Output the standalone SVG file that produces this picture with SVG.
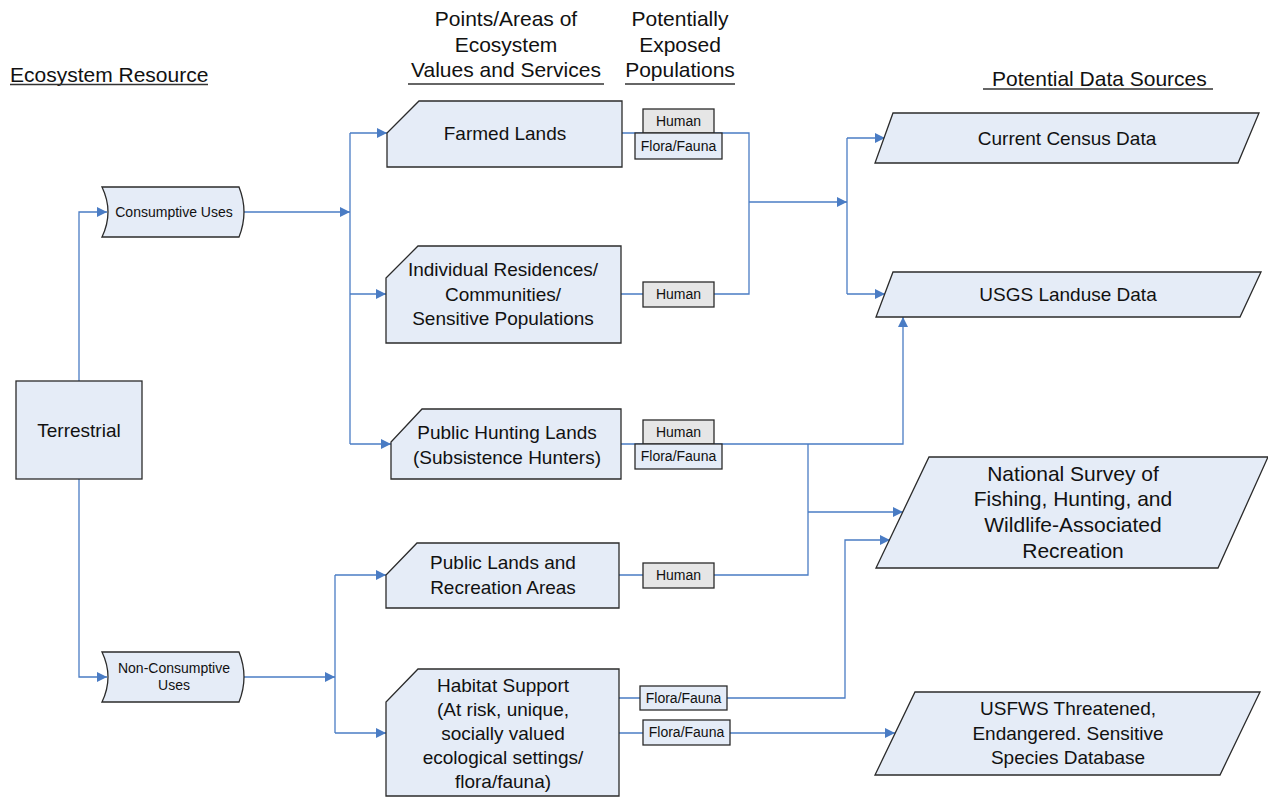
<svg xmlns="http://www.w3.org/2000/svg" width="1268" height="797" viewBox="0 0 1268 797">
<defs>
<marker id="arr" markerUnits="userSpaceOnUse" markerWidth="10" markerHeight="10" viewBox="0 0 10 10" refX="10" refY="5" orient="auto">
<path d="M0,0 L10,5 L0,10 Z" fill="#4a7cc4"/>
</marker>
<style>
.c{fill:none;stroke:#4a7cc4;stroke-width:1.3}
.a{marker-end:url(#arr)}
.n{fill:#e5ecf7;stroke:#2b2b2b;stroke-width:1.3}
.h{fill:#e6e6e6;stroke:#2b2b2b;stroke-width:1.3}
.f{fill:#e5ecf7;stroke:#2b2b2b;stroke-width:1.3}
text{font-family:"Liberation Sans",Arial,sans-serif;fill:#111}
.t19{font-size:19px;text-anchor:middle}
.t21{font-size:21px}
.t21m{font-size:21px;text-anchor:middle}
.t14{font-size:14px;text-anchor:middle}
.t13{font-size:14px;text-anchor:middle}
.u{stroke:#333;stroke-width:1.3}
</style>
</defs>
<rect width="1268" height="797" fill="#fff"/>

<g id="headers">
<text class="t21" x="10" y="82">Ecosystem Resource</text>
<line class="u" x1="10" y1="84.5" x2="208" y2="84.5"/>
<text class="t21m" x="506" y="26">Points/Areas of</text>
<text class="t21m" x="506" y="52">Ecosystem</text>
<text class="t21m" x="506" y="77">Values and Services</text>
<line class="u" x1="408" y1="84" x2="604" y2="84"/>
<text class="t21m" x="680" y="26">Potentially</text>
<text class="t21m" x="680" y="52">Exposed</text>
<text class="t21m" x="680" y="77">Populations</text>
<line class="u" x1="625" y1="84" x2="735" y2="84"/>
<text class="t21" x="992" y="86">Potential Data Sources</text>
<line class="u" x1="983" y1="89" x2="1213" y2="89"/>
</g>

<g id="connectors">
<path class="c a" d="M79,381 V212 H107"/>
<path class="c a" d="M79,479 V677 H107"/>
<path class="c a" d="M244,212 H350"/>
<path class="c" d="M350,133 V444"/>
<path class="c a" d="M350,133 H387"/>
<path class="c a" d="M350,294 H386"/>
<path class="c a" d="M350,444 H391"/>
<path class="c a" d="M244,677 H335"/>
<path class="c" d="M335,575 V733"/>
<path class="c a" d="M335,575 H386"/>
<path class="c a" d="M335,733 H386"/>
<path class="c" d="M622,133 H749 V294 H621"/>
<path class="c a" d="M749,202 H847"/>
<path class="c" d="M847,138 V294"/>
<path class="c a" d="M847,138 H885"/>
<path class="c a" d="M847,294 H885"/>
<path class="c a" d="M621,444 H903 V317"/>
<path class="c" d="M808,444 V575 H619"/>
<path class="c a" d="M808,512 H903"/>
<path class="c a" d="M619,698 H845 V540 H890"/>
<path class="c a" d="M619,733 H895"/>
</g>

<g id="terrestrial">
<rect class="n" x="16" y="381" width="126" height="98"/>
<text class="t19" x="79" y="437">Terrestrial</text>
</g>
<g id="consumptive">
<path class="n" d="M102,187 L239,187 Q249,212 239,237 L102,237 Q114,212 102,187 Z"/>
<text class="t14" x="174" y="217">Consumptive Uses</text>
</g>
<g id="nonconsumptive">
<path class="n" d="M102,652 L239,652 Q249,677 239,702 L102,702 Q114,677 102,652 Z"/>
<text class="t14" x="174" y="673">Non-Consumptive</text>
<text class="t14" x="174" y="690">Uses</text>
</g>

<g id="farmed">
<path class="n" d="M419,101 H622 V167 H387 V133 Z"/>
<text class="t19" x="505" y="140">Farmed Lands</text>
</g>
<g id="farmed-pop">
<rect class="h" x="643" y="109" width="71" height="24"/>
<text class="t13" x="678.5" y="126">Human</text>
<rect class="f" x="635" y="133" width="87" height="26"/>
<text class="t13" x="678.5" y="151">Flora/Fauna</text>
</g>

<g id="residences">
<path class="n" d="M418,246 H621 V343 H386 V278 Z"/>
<text class="t19" x="503" y="276">Individual Residences/</text>
<text class="t19" x="503" y="301">Communities/</text>
<text class="t19" x="503" y="325">Sensitive Populations</text>
</g>
<g id="residences-pop">
<rect class="h" x="643" y="282" width="71" height="25"/>
<text class="t13" x="678.5" y="299">Human</text>
</g>

<g id="hunting">
<path class="n" d="M422,409 H621 V479 H391 V442 Z"/>
<text class="t19" x="507" y="439">Public Hunting Lands</text>
<text class="t19" x="507" y="464">(Subsistence Hunters)</text>
</g>
<g id="hunting-pop">
<rect class="h" x="643" y="420" width="71" height="24"/>
<text class="t13" x="678.5" y="437">Human</text>
<rect class="f" x="635" y="444" width="87" height="25"/>
<text class="t13" x="678.5" y="461">Flora/Fauna</text>
</g>

<g id="publiclands">
<path class="n" d="M417,543 H619 V608 H386 V575 Z"/>
<text class="t19" x="503" y="569">Public Lands and</text>
<text class="t19" x="503" y="594">Recreation Areas</text>
</g>
<g id="publiclands-pop">
<rect class="h" x="643" y="563" width="71" height="25"/>
<text class="t13" x="678.5" y="580">Human</text>
</g>

<g id="habitat">
<path class="n" d="M418,669 H619 V796 H386 V702 Z"/>
<text class="t19" x="503" y="692">Habitat Support</text>
<text class="t19" x="503" y="716">(At risk, unique,</text>
<text class="t19" x="503" y="740">socially valued</text>
<text class="t19" x="503" y="764">ecological settings/</text>
<text class="t19" x="503" y="788">flora/fauna)</text>
</g>
<g id="habitat-pop1">
<rect class="f" x="640" y="686" width="87" height="24"/>
<text class="t13" x="683.5" y="703">Flora/Fauna</text>
</g>
<g id="habitat-pop2">
<rect class="f" x="643" y="720" width="87" height="25"/>
<text class="t13" x="686.5" y="737">Flora/Fauna</text>
</g>

<g id="census">
<path class="n" d="M893,113 H1259 L1238,163 H875 Z"/>
<text class="t19" x="1067" y="145">Current Census Data</text>
</g>
<g id="usgs">
<path class="n" d="M893,272 H1261 L1240,317 H876 Z"/>
<text class="t19" x="1068" y="301">USGS Landuse Data</text>
</g>
<g id="nationalsurvey">
<path class="n" d="M929,457 H1268 L1218,568 H876 Z"/>
<text class="t21m" x="1073" y="481">National Survey of</text>
<text class="t21m" x="1073" y="506">Fishing, Hunting, and</text>
<text class="t21m" x="1073" y="532">Wildlife-Associated</text>
<text class="t21m" x="1073" y="558">Recreation</text>
</g>
<g id="usfws">
<path class="n" d="M915,692 H1260 L1220,775 H875 Z"/>
<text class="t19" x="1068" y="715">USFWS Threatened,</text>
<text class="t19" x="1068" y="740">Endangered. Sensitive</text>
<text class="t19" x="1068" y="764">Species Database</text>
</g>
</svg>
